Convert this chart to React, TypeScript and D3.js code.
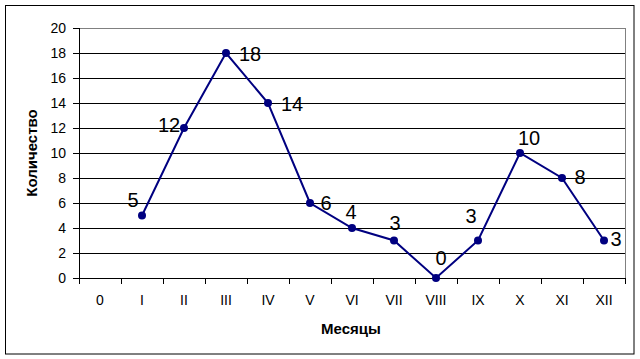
import React from "react";
import * as d3 from "d3";

const categories = ["0", "I", "II", "III", "IV", "V", "VI", "VII", "VIII", "IX", "X", "XI", "XII"];
const values: (number | null)[] = [null, 5, 12, 18, 14, 6, 4, 3, 0, 3, 10, 8, 3];
const yTicks = [0, 2, 4, 6, 8, 10, 12, 14, 16, 18, 20];
const labelOffsets: [number, number][] = [
  [0, 0], [-9, -16], [-15, -3], [24, 1], [24, 1], [16, 0], [-1, -16], [1, -18], [5, -20], [-7, -25], [9, -15], [18, -1], [12, -2],
];
const xTitle = "Месяцы";
const yTitle = "Количество";

const W = 640, H = 359;
const L = 79, R = 625, T = 28, B = 278;
const font = "'Liberation Sans', Arial, sans-serif";
const navy = "#000080";

export default function App() {
  const x = d3.scaleBand<string>().domain(categories).range([L, R]).paddingInner(0).paddingOuter(0);
  const y = d3.scaleLinear().domain([0, 20]).range([B, T]);
  const pts = categories
    .map((c, i) => ({ c, v: values[i], i }))
    .filter((d) => d.v !== null) as { c: string; v: number; i: number }[];
  const line = d3
    .line<{ c: string; v: number }>()
    .x((d) => (x(d.c) as number) + x.bandwidth() / 2)
    .y((d) => y(d.v));
  const tickXs = categories.map((c) => x(c) as number).concat([R]);

  return (
    <svg width={W} height={H} style={{ position: "absolute", left: 0, top: 0, background: "#fff" }} fontFamily={font}>
      <rect x={5.5} y={5.5} width={628.5} height={348.5} fill="#fff" stroke="#000" strokeWidth={1} />
      {yTicks.slice(1, -1).map((t) => (
        <line key={"g" + t} x1={L} x2={R} y1={Math.round(y(t)) + 0.5} y2={Math.round(y(t)) + 0.5} stroke="#000" />
      ))}
      <line x1={L} x2={R + 0.5} y1={T + 0.5} y2={T + 0.5} stroke="#808080" />
      <line x1={R + 0.5} x2={R + 0.5} y1={T} y2={B} stroke="#808080" />
      <line x1={L + 0.5} x2={L + 0.5} y1={T} y2={B} stroke="#000" />
      <line x1={L} x2={R + 1} y1={B + 0.5} y2={B + 0.5} stroke="#000" />
      {yTicks.map((t) => (
        <g key={"y" + t}>
          <line x1={L - 6} x2={L} y1={Math.round(y(t)) + 0.5} y2={Math.round(y(t)) + 0.5} stroke="#000" />
          <text x={L - 13} y={y(t)} textAnchor="end" dominantBaseline="central" fontSize={14}>
            {t}
          </text>
        </g>
      ))}
      {tickXs.map((tx, i) => (
        <line key={"xt" + i} x1={Math.round(tx) + 0.5} x2={Math.round(tx) + 0.5} y1={B} y2={B + 6} stroke="#000" />
      ))}
      {categories.map((c) => (
        <text key={"xl" + c} x={(x(c) as number) + x.bandwidth() / 2} y={300} textAnchor="middle" dominantBaseline="central" fontSize={14}>
          {c}
        </text>
      ))}
      <path d={line(pts) || ""} fill="none" stroke={navy} strokeWidth={2} />
      {pts.map((d) => (
        <circle key={"p" + d.c} cx={(x(d.c) as number) + x.bandwidth() / 2} cy={y(d.v)} r={4} fill={navy} />
      ))}
      {pts.map((d) => (
        <text
          key={"l" + d.c}
          x={(x(d.c) as number) + x.bandwidth() / 2 + labelOffsets[d.i][0]}
          y={y(d.v) + labelOffsets[d.i][1]}
          textAnchor="middle"
          dominantBaseline="central"
          fontSize={20}
        >
          {d.v}
        </text>
      ))}
      <text x={351} y={328} textAnchor="middle" dominantBaseline="central" fontSize={15} fontWeight="bold">
        {xTitle}
      </text>
      <text
        transform={`translate(31,${(T + B) / 2}) rotate(-90)`}
        textAnchor="middle"
        dominantBaseline="central"
        fontSize={15}
        fontWeight="bold"
      >
        {yTitle}
      </text>
    </svg>
  );
}
